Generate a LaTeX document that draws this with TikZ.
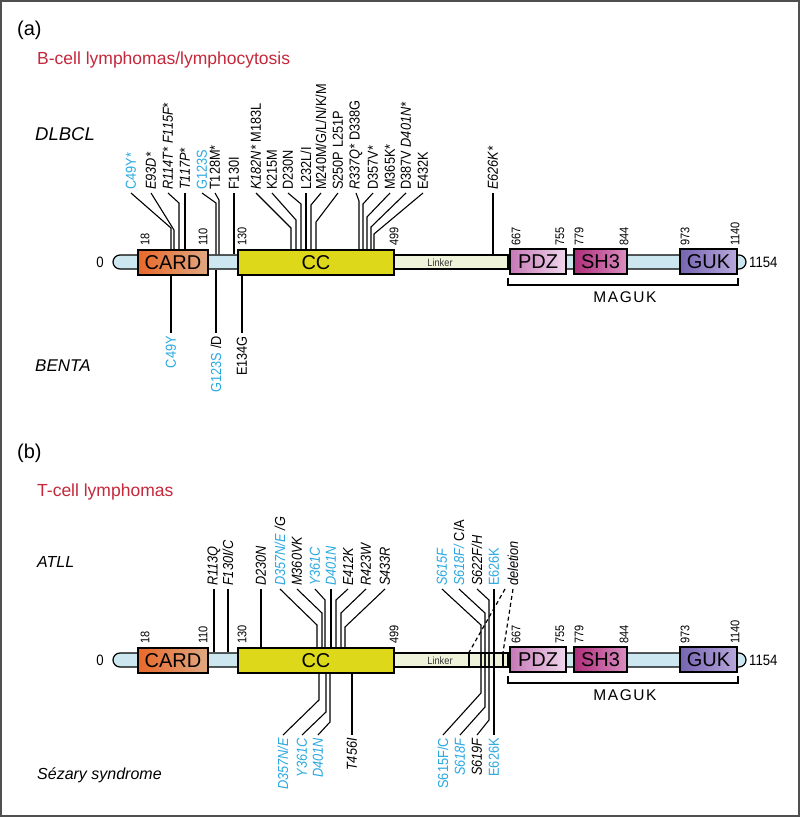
\documentclass[tikz,border=0pt]{standalone}
\usepackage{fontspec}
\setmainfont{Liberation Sans}
\newfontfamily\cond[FakeStretch=0.88]{Liberation Sans}
\usetikzlibrary{calc}
\definecolor{mblue}{HTML}{2AA8E0}
\definecolor{mred}{HTML}{C4283A}
\definecolor{tubec}{HTML}{CDE7F0}
\definecolor{lnkc}{HTML}{EEF3DA}
\definecolor{frame}{HTML}{505050}
\tikzset{
  mline/.style={line width=1.1pt, black},
  mu/.style={rotate=90, anchor=west, inner ysep=0pt, inner xsep=3pt, font=\cond\fontsize{14.5}{16}\selectfont},
  md/.style={rotate=90, anchor=east, inner ysep=0pt, inner xsep=3pt, font=\cond\fontsize{14.5}{16}\selectfont},
  num/.style={rotate=90, anchor=west, inner sep=0pt, font=\cond\fontsize{12.5}{12.5}\selectfont},
  dom/.style={draw, line width=1.2pt, rectangle, inner sep=0pt, font=\fontsize{20}{20}\selectfont},
  tubebox/.style={draw, line width=1.2pt, rectangle, rounded corners=7pt, fill=tubec, inner sep=0pt, minimum height=14pt},
  lnk/.style={draw, line width=1.2pt, rectangle, fill=lnkc, inner sep=0pt, minimum height=14pt, minimum width=114pt},
  grp/.style={anchor=west, inner sep=0pt, font=\itshape\fontsize{16}{16}\selectfont},
  ttl/.style={anchor=west, inner sep=0pt, text=mred, font=\fontsize{17.5}{18}\selectfont},
  plab/.style={anchor=west, inner sep=0pt, font=\fontsize{20}{20}\selectfont},
  endlab/.style={inner sep=0pt, font=\cond\fontsize{15}{15}\selectfont},
  dashln/.style={line width=1.2pt, dash pattern=on 4pt off 3pt}
}
\newcommand\backbone[1]{%
  \node[tubebox, minimum width=633pt] (tube#1) at (429.5,262) {};
  \node[lnk] (linker#1) at (451,262) {};
  \node[inner sep=0pt, font=\cond\fontsize{10.5}{10.5}\selectfont, text=black!80] (lt#1) at (440,263) {Linker};
  \node[dom, minimum width=70pt, minimum height=25pt, left color={rgb,255:red,232;green,104;blue,42}, right color={rgb,255:red,224;green,168;blue,130}] (card#1) at (173,262.5) {CARD};
  \node[dom, minimum width=156pt, minimum height=25pt, left color={rgb,255:red,222;green,216;blue,26}, middle color={rgb,255:red,246;green,246;blue,176}, right color={rgb,255:red,222;green,216;blue,26}] (cc#1) at (316,262.5) {CC};
  \node[dom, minimum width=56pt, minimum height=25pt, left color={rgb,255:red,198;green,120;blue,182}, right color={rgb,255:red,240;green,214;blue,236}] (pdz#1) at (538,261.5) {PDZ};
  \node[dom, minimum width=53pt, minimum height=25pt, left color={rgb,255:red,174;green,46;blue,122}, right color={rgb,255:red,218;green,142;blue,194}] (sh3#1) at (600.5,261.5) {SH3};
  \node[dom, minimum width=57pt, minimum height=25pt, left color={rgb,255:red,117;green,100;blue,176}, right color={rgb,255:red,184;green,168;blue,220}] (guk#1) at (708.5,261.5) {GUK};
  \node[num] (n18#1) at (145,246) {18};
  \node[num] (n110#1) at (203,246) {110};
  \node[num] (n130#1) at (242,246) {130};
  \node[num] (n499#1) at (394,246) {499};
  \node[num] (n667#1) at (516,246) {667};
  \node[num] (n755#1) at (560,246) {755};
  \node[num] (n779#1) at (579,246) {779};
  \node[num] (n844#1) at (624,246) {844};
  \node[num] (n973#1) at (685,246) {973};
  \node[num] (n1140#1) at (735,246) {1140};
  \node[endlab] (zero#1) at (100,262) {0};
  \node[endlab, anchor=west] (end#1) at (749,262) {1154};
  \coordinate (bl#1) at (508,278);
  \coordinate (br#1) at (738,278);
  \draw[line width=1.2pt] (bl#1) -- ++(0,7) -| (br#1);
  \node[inner sep=0pt, font=\fontsize{15.5}{15.5}\selectfont\addfontfeatures{LetterSpace=10}] (maguk#1) at (625,297) {MAGUK};
}
\begin{document}
\begin{tikzpicture}[x=1pt,y=-1pt]
\useasboundingbox (0,0) rectangle (800,817);
\draw[line width=2pt, frame] (1,1) rectangle (799,816);

% ---------------- panel (a) ----------------
\node[plab] (pa) at (17,30) {(a)};
\node[ttl] (ta) at (37,60) {B-cell lymphomas/lymphocytosis};
\node[grp, font=\itshape\fontsize{18.5}{18.5}\selectfont] (dlbcl) at (35,134) {DLBCL};
\node[grp, font=\itshape\fontsize{17}{17}\selectfont] (benta) at (35,366) {BENTA};

\backbone{a}

% top mutations (a)
\node[mu, text=mblue] (a1) at (131,193) {C49Y*};
\node[mu] (a2) at (151,193) {\itshape E93D*};
\node[mu] (a3) at (168,193) {\itshape R114T* F115F*};
\node[mu] (a4) at (185,193) {\itshape T117P*};
\node[mu, text=mblue] (a5) at (202,193) {G123S};
\node[mu] (a6) at (215,193) {T128M*};
\node[mu] (a7) at (234,193) {F130I};
\node[mu] (a8) at (256,193) {{\itshape K182N*} M183L};
\node[mu] (a9) at (272,193) {K215M};
\node[mu] (a10) at (288,193) {D230N};
\node[mu] (a11) at (306,193) {L232L/I};
\node[mu] (a12) at (321,193) {M240M/G/L/N/K/M};
\node[mu] (a13) at (338,193) {S250P L251P};
\node[mu] (a14) at (356,193) {{\itshape R337Q*} D338G};
\node[mu] (a15) at (373,193) {D357V*};
\node[mu] (a16) at (390,193) {M365K*};
\node[mu] (a17) at (406,193) {D387V {\itshape D401N*}};
\node[mu] (a18) at (423,193) {E432K};
\node[mu] (a19) at (493,193) {\itshape E626K*};

\draw[mline] (a1.west) -- (171,228) -- (171,0 |- carda.north);
\draw[mline] (a2.west) -- (174,230) -- (174,0 |- carda.north);
\draw[mline] (a3.west) -- (179,203) -- (179,0 |- carda.north);
\draw[mline] (a4.west) -- (185,0 |- carda.north);
\draw[mline] (a5.west) -- (216,203) -- (216,0 |- tubea.north);
\draw[mline] (a6.west) -- (219,200) -- (219,0 |- tubea.north);
\draw[mline] (a7.west) -- (234,0 |- tubea.north);
\draw[mline] (a8.west) -- (291,228) -- (291,0 |- cca.north);
\draw[mline] (a9.west) -- (296,220) -- (296,0 |- cca.north);
\draw[mline] (a10.west) -- (301,204) -- (301,0 |- cca.north);
\draw[mline] (a11.west) -- (306,0 |- cca.north);
\draw[mline] (a12.west) -- (311,205) -- (311,0 |- cca.north);
\draw[mline] (a13.west) -- (316,222) -- (316,0 |- cca.north);
\draw[mline] (a14.west) -- (359,201) -- (359,0 |- cca.north);
\draw[mline] (a15.west) -- (363,204) -- (363,0 |- cca.north);
\draw[mline] (a16.west) -- (367,217) -- (367,0 |- cca.north);
\draw[mline] (a17.west) -- (371,227) -- (371,0 |- cca.north);
\draw[mline] (a18.west) -- (374,234) -- (374,0 |- cca.north);
\draw[mline] (a19.west) -- (493,0 |- linkera.north);

% bottom mutations (a)
\node[md, text=mblue] (b1) at (171,333) {C49Y};
\node[md] (b2) at (216,333) {\textcolor{mblue}{G123S} /D};
\node[md] (b3) at (242,333) {E134G};
\draw[mline] (171,0 |- carda.south) -- (b1.east);
\draw[mline] (216,0 |- tubea.south) -- (b2.east);
\draw[mline] (242,0 |- cca.south) -- (b3.east);

% ---------------- panel (b) ----------------
\node[plab] (pb) at (17,453) {(b)};
\node[ttl] (tb) at (37,492) {T-cell lymphomas};
\node[grp] (atll) at (37,562) {ATLL};
\node[grp] (sez) at (37,775) {Sézary syndrome};

\begin{scope}[shift={(0,398)}]
\backbone{b}
\end{scope}
\draw[line width=1.2pt] (469,0 |- linkerb.north) -- (469,0 |- linkerb.south);
\draw[line width=1.2pt] (503,0 |- linkerb.north) -- (503,0 |- linkerb.south);

% top mutations (b)
\node[mu] (c1) at (214,589) {\itshape R113Q};
\node[mu] (c2) at (228,589) {\itshape F130I/C};
\node[mu] (c3) at (261,589) {\itshape D230N};
\node[mu] (c4) at (280,589) {\itshape\textcolor{mblue}{D357N/E} /G};
\node[mu] (c5) at (297,589) {\itshape M360VK};
\node[mu, text=mblue] (c6) at (315,589) {\itshape Y361C};
\node[mu, text=mblue] (c7) at (331,589) {\itshape D401N};
\node[mu] (c8) at (348,589) {\itshape E412K};
\node[mu] (c9) at (366,589) {\itshape R423W};
\node[mu] (c10) at (385,589) {\itshape S433R};
\node[mu, text=mblue] (c11) at (442,589) {\itshape S615F};
\node[mu] (c12) at (459,589) {\textcolor{mblue}{\itshape S618F/} C/A};
\node[mu] (c13) at (477,589) {\itshape S622F/H};
\node[mu, text=mblue] (c14) at (494,589) {E626K};
\node[mu] (c15) at (513,589) {\itshape deletion};

\draw[mline] (c1.west) -- (214,0 |- tubeb.north);
\draw[mline] (c2.west) -- (228,0 |- tubeb.north);
\draw[mline] (c3.west) -- (261,0 |- ccb.north);
\draw[mline] (c4.west) -- (317,625) -- (317,0 |- ccb.north);
\draw[mline] (c5.west) -- (322,613) -- (322,0 |- ccb.north);
\draw[mline] (c6.west) -- (325,600) -- (325,0 |- ccb.north);
\draw[mline] (c7.west) -- (331,0 |- ccb.north);
\draw[mline] (c8.west) -- (336,600) -- (336,0 |- ccb.north);
\draw[mline] (c9.west) -- (341,613) -- (341,0 |- ccb.north);
\draw[mline] (c10.west) -- (345,627) -- (345,0 |- ccb.north);
\draw[mline] (c11.west) -- (481,625) -- (481,0 |- linkerb.south);
\draw[mline] (c12.west) -- (485,613) -- (485,0 |- linkerb.south);
\draw[mline] (c13.west) -- (489,600) -- (489,0 |- linkerb.south);
\draw[mline] (c14.west) -- (494,0 |- linkerb.south);
\draw[dashln] ($(c15.west)+(-8,0)$) -- (469,0 |- linkerb.north);
\draw[dashln] (c15.west) -- (503,0 |- linkerb.north);

% bottom mutations (b)
\node[md, text=mblue] (d1) at (283,735) {\itshape D357N/E};
\node[md, text=mblue] (d2) at (302,735) {\itshape Y361C};
\node[md, text=mblue] (d3) at (318,735) {\itshape D401N};
\node[md] (d4) at (352,735) {\itshape T456I};
\node[md, text=mblue] (d5) at (443,735) {S615F/C};
\node[md, text=mblue] (d6) at (460,735) {\itshape S618F};
\node[md] (d7) at (477,735) {\itshape S619F};
\node[md, text=mblue] (d8) at (494,735) {E626K};

\draw[mline] (319,0 |- ccb.south) -- (319,700) -- (d1.east);
\draw[mline] (326,0 |- ccb.south) -- (326,712) -- (d2.east);
\draw[mline] (330,0 |- ccb.south) -- (330,722) -- (d3.east);
\draw[mline] (352,0 |- ccb.south) -- (d4.east);
\draw[mline] (481,0 |- linkerb.north) -- (481,693) -- (d5.east);
\draw[mline] (485,0 |- linkerb.north) -- (485,707) -- (d6.east);
\draw[mline] (489,0 |- linkerb.north) -- (489,720) -- (d7.east);
\draw[mline] (494,0 |- linkerb.north) -- (d8.east);
\end{tikzpicture}
\end{document}
